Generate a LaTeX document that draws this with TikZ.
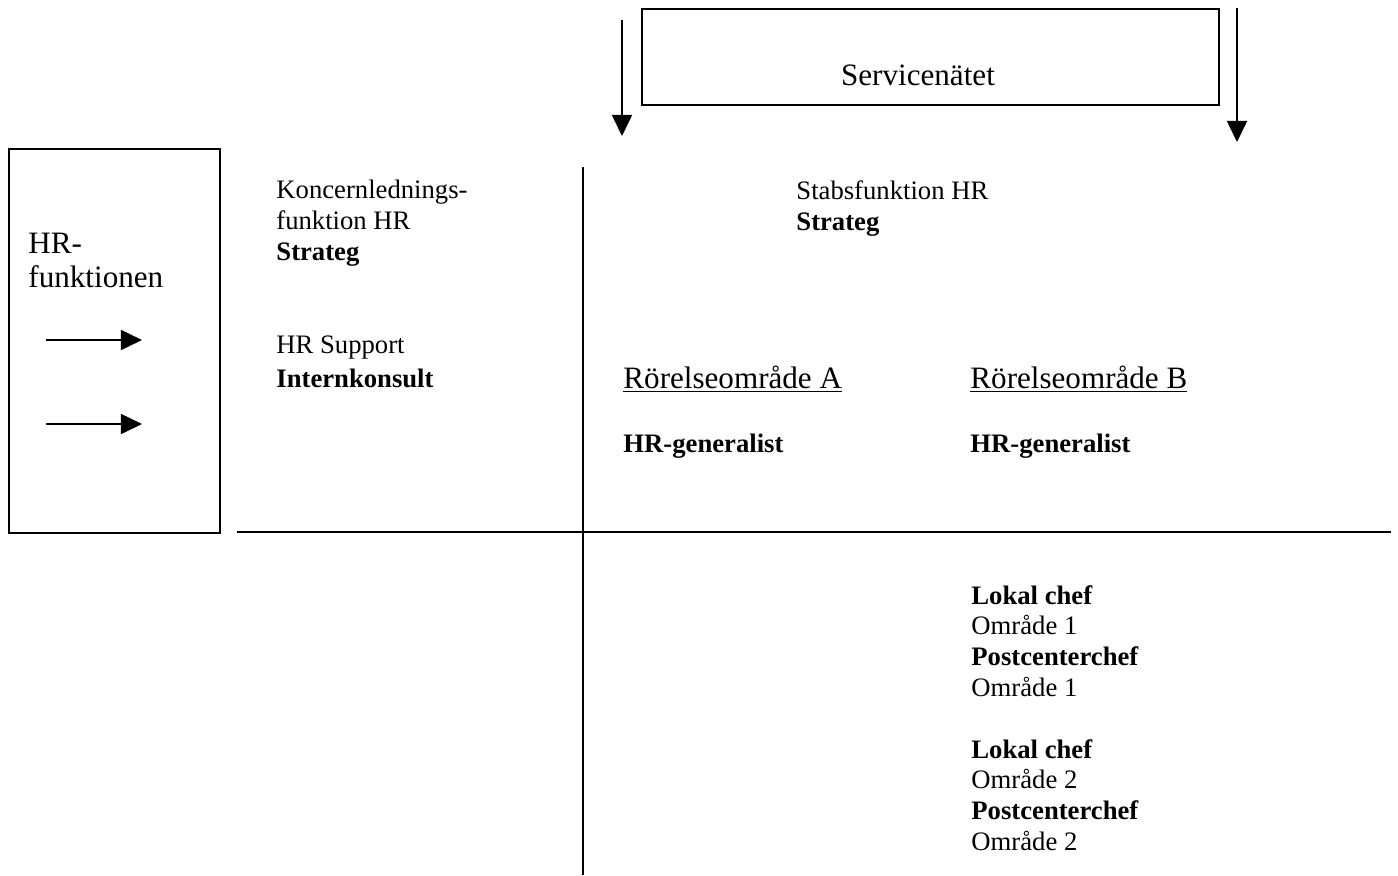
\documentclass[tikz,border=0pt]{standalone}
\usepackage{fontspec}
\setmainfont{Liberation Serif}
\usetikzlibrary{arrows.meta}
\tikzset{
  txt/.style={inner sep=0pt, anchor=base west, align=left, font=\fontsize{12}{13.8}\selectfont},
  big/.style={inner sep=0pt, anchor=base west, align=left, font=\fontsize{14}{15.2}\selectfont},
  frame/.style={draw, line width=0.9pt, inner sep=0pt},
  rule/.style={line width=0.9pt},
  arr/.style={line width=0.9pt, -{Triangle[length=9.5pt,width=9pt]}},
}
\begin{document}
\begin{tikzpicture}[x=0.45pt,y=-0.45pt]
\useasboundingbox (0,0) rectangle (1398,875);
% left frame (anchor base = last line baseline)
\node (hrbox) [frame, anchor=north west, minimum width=94.95pt, minimum height=172.8pt] at (8,148) {};
\node (hrtext) [big] at (28,287) {HR-\\funktionen};
\coordinate (a1s) at (46,340); \coordinate (a1e) at (142,340);
\coordinate (a2s) at (46,424); \coordinate (a2e) at (142,424);
\draw[arr] (a1s) -- (a1e);
\draw[arr] (a2s) -- (a2e);
% top box
\node (svcbox) [frame, anchor=north west, minimum width=259.65pt, minimum height=43.2pt] at (641,8) {};
\node (svctext) [inner sep=0pt, anchor=base, font=\fontsize{14}{14.4}\selectfont] at (918,85) {Servicenätet};
\coordinate (t1s) at (622,20); \coordinate (t1e) at (622,136);
\coordinate (t2s) at (1237,8); \coordinate (t2e) at (1237,142);
\draw[arr] (t1s) -- (t1e);
\draw[arr] (t2s) -- (t2e);
% dividing lines
\coordinate (hl1) at (237,532); \coordinate (hl2) at (1391,532);
\coordinate (vl1) at (583,167); \coordinate (vl2) at (583,875);
\draw[rule] (hl1) -- (hl2);
\draw[rule] (vl1) -- (vl2);
% texts
\node (kl) [txt] at (276,260) {Koncernlednings-\\funktion HR\\\textbf{Strateg}};
\node (sup) [txt] at (276,387) {HR Support\\[1.5pt]\textbf{Internkonsult}};
\node (stab) [txt] at (796,230) {Stabsfunktion HR\\\textbf{Strateg}};
\node (roa) [big] at (623,388) {\underline{Rörelseområde A}};
\node (rob) [big] at (970,388) {\underline{Rörelseområde B}};
\node (gena) [txt] at (623,452) {\textbf{HR-generalist}};
\node (genb) [txt] at (970,452) {\textbf{HR-generalist}};
\node (lc1) [txt] at (971,696) {\textbf{Lokal chef}\\Område 1\\\textbf{Postcenterchef}\\Område 1};
\node (lc2) [txt] at (971,850) {\textbf{Lokal chef}\\Område 2\\\textbf{Postcenterchef}\\Område 2};
\end{tikzpicture}
\end{document}
